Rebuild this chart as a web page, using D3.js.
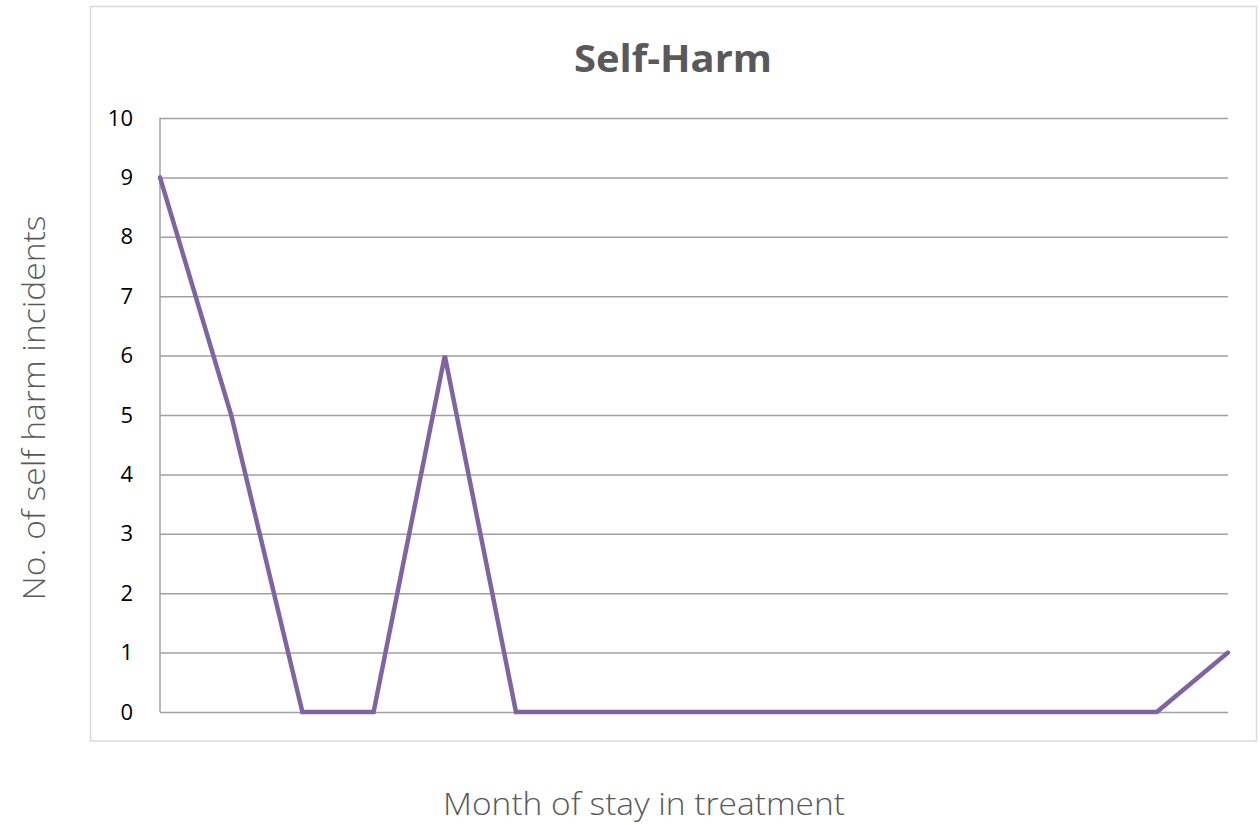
<!DOCTYPE html>
<html>
<head>
<meta charset="utf-8">
<script src="https://cdn.jsdelivr.net/npm/d3@7"></script>
<style>
  body { margin: 0; background: #fff; }
  svg { display: block; }
</style>
</head>
<body>
<svg id="chart" width="1260" height="825"></svg>
<script>
// Monthly self-harm incidents across the stay in treatment
const months = d3.range(1, 17);
const incidents = [9, 5, 0, 0, 6, 0, 0, 0, 0, 0, 0, 0, 0, 0, 0, 1];
const yTicks = [0, 1, 2, 3, 4, 5, 6, 7, 8, 9, 10];

const titleText = "Self-Harm";
const xTitle = "Month of stay in treatment";
const yTitle = "No. of self harm incidents";

const svg = d3.select("#chart");
const plot = { left: 160, right: 1228, top: 118, bottom: 712 };

// chart frame
svg.append("rect")
  .attr("x", 90.5).attr("y", 6.5)
  .attr("width", 1166).attr("height", 734.5)
  .attr("fill", "#fff")
  .attr("stroke", "#d9d9d9").attr("stroke-width", 1.5);

const x = d3.scalePoint().domain(months).range([plot.left, plot.right]);
const y = d3.scaleLinear().domain([0, 10]).range([plot.bottom, plot.top]);

// horizontal gridlines + y tick labels
const yAxis = d3.axisLeft(y).tickValues(yTicks).tickSize(-(plot.right - plot.left)).tickPadding(27);
const gy = svg.append("g").attr("transform", `translate(${plot.left},0)`).call(yAxis);
gy.select(".domain").remove();
gy.selectAll(".tick line").attr("stroke", "#a0a0a0").attr("stroke-width", 1.5);
gy.selectAll(".tick text")
  .attr("font-family", "'Open Sans', sans-serif")
  .attr("font-size", 22)
  .attr("fill", "#000");

// vertical axis line
svg.append("line")
  .attr("x1", plot.left).attr("x2", plot.left)
  .attr("y1", plot.top).attr("y2", plot.bottom)
  .attr("stroke", "#a0a0a0").attr("stroke-width", 1.5);

// incidents line
const line = d3.line().x((d, i) => x(months[i])).y(d => y(d));
svg.append("path")
  .datum(incidents)
  .attr("d", line)
  .attr("fill", "none")
  .attr("stroke", "#8064a2")
  .attr("stroke-width", 4.5)
  .attr("stroke-linejoin", "miter")
  .attr("stroke-linecap", "round");

// titles
svg.append("text")
  .attr("x", 673).attr("y", 72)
  .attr("text-anchor", "middle")
  .attr("font-family", "'Open Sans', sans-serif")
  .attr("font-weight", "bold")
  .attr("font-size", 37)
  .attr("textLength", 198)
  .attr("lengthAdjust", "spacingAndGlyphs")
  .attr("fill", "#595959")
  .text(titleText);

svg.append("text")
  .attr("x", 644).attr("y", 815)
  .attr("text-anchor", "middle")
  .attr("font-family", "'Open Sans', sans-serif")
  .attr("font-weight", 300)
  .attr("font-size", 31)
  .attr("textLength", 402)
  .attr("lengthAdjust", "spacingAndGlyphs")
  .attr("fill", "#595959")
  .text(xTitle);

svg.append("text")
  .attr("transform", "translate(45,408) rotate(-90)")
  .attr("text-anchor", "middle")
  .attr("font-family", "'Open Sans', sans-serif")
  .attr("font-weight", 300)
  .attr("font-size", 31)
  .attr("textLength", 385)
  .attr("lengthAdjust", "spacingAndGlyphs")
  .attr("fill", "#595959")
  .text(yTitle);
</script>
</body>
</html>
